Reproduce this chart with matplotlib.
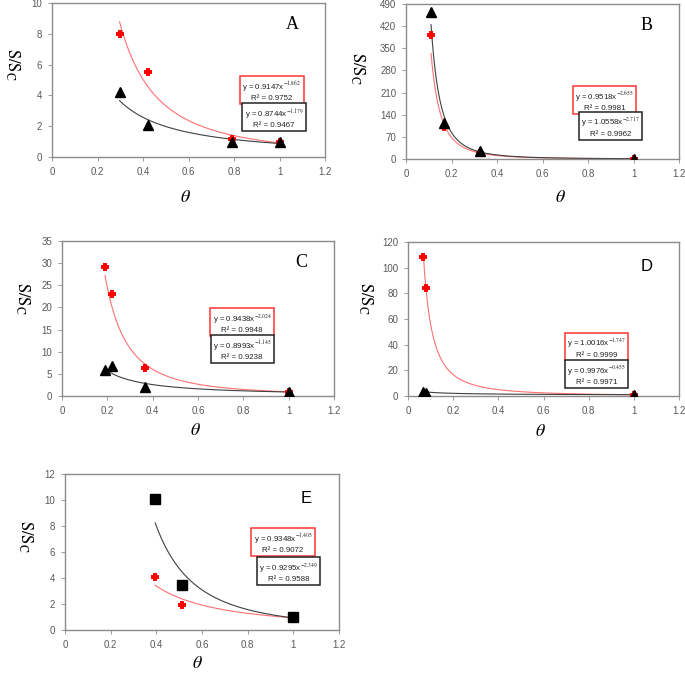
import numpy as np
import matplotlib
matplotlib.use("Agg")
import matplotlib.pyplot as plt

plt.rcParams['mathtext.fontset'] = 'stix'

W, H = 685, 674

# ---------------- data ----------------
# Panel A
a_red_x = [0.297, 0.423, 0.79, 1.0]
a_red_y = [8.0, 5.5, 1.2, 1.0]
a_blk_x = [0.297, 0.423, 0.79, 1.0]
a_blk_y = [4.2, 2.05, 1.0, 1.0]
a_red_fit = (0.9147, -1.862, 0.9752)
a_blk_fit = (0.8744, -1.179, 0.9467)

# Panel B
b_red_x = [0.11, 0.165, 0.325, 1.0]
b_red_y = [393, 100, 18, 0.9]
b_blk_x = [0.11, 0.165, 0.325, 1.0]
b_blk_y = [465, 115, 25, 1.0]
b_red_fit = (0.9518, -2.655, 0.9981)
b_blk_fit = (1.0558, -2.717, 0.9962)

# Panel C
c_red_x = [0.19, 0.22, 0.365, 1.0]
c_red_y = [29.2, 23.1, 6.3, 1.0]
c_blk_x = [0.19, 0.22, 0.365, 1.0]
c_blk_y = [5.9, 6.8, 2.1, 0.8]
c_red_fit = (0.9438, -2.024, 0.9948)
c_blk_fit = (0.8993, -1.145, 0.9238)

# Panel D
d_red_x = [0.068, 0.08, 1.0]
d_red_y = [108, 84, 1.0]
d_blk_x = [0.068, 0.08, 1.0]
d_blk_y = [3.0, 2.5, 0.6]
d_red_fit = (1.0016, -1.747, 0.9999)
d_blk_fit = (0.9976, -0.455, 0.9971)

# Panel E
e_red_x = [0.395, 0.512, 1.0]
e_red_y = [4.1, 1.9, 1.0]
e_blk_x = [0.395, 0.512, 1.0]
e_blk_y = [10.1, 3.5, 1.0]
e_red_fit = (0.9348, -1.405, 0.9072)
e_blk_fit = (0.9295, -2.349, 0.9588)

x_ticks = [0, 0.2, 0.4, 0.6, 0.8, 1.0, 1.2]
x_ticklabels = ['0', '0.2', '0.4', '0.6', '0.8', '1', '1.2']

fig = plt.figure(figsize=(W / 100, H / 100), dpi=100)

TICK_FONT = 'Liberation Sans'
SPINE_C = '#8c8c8c'


def px_axes(l, r, t, b):
    return fig.add_axes([l / W, 1 - b / H, (r - l) / W, (b - t) / H])


def fit_label(fit):
    a, k, r2 = fit
    return "y = %.4fx$^{%s}$\nR² = %.4f" % (a, ("%.3f" % k), r2)


def panel(rect, red, blk, red_fit, blk_fit, ymax, ystep, letter, letter_serif,
          red_box, blk_box, blk_marker='^', blk_ms=7):
    ax = px_axes(*rect)
    rx, ry = red
    bx, by = blk
    # fitted curves
    xr = np.linspace(min(rx), max(rx), 300)
    ax.plot(xr, red_fit[0] * xr ** red_fit[1], color='#ff7070', lw=0.8, zorder=2)
    xb = np.linspace(min(bx), max(bx), 300)
    ax.plot(xb, blk_fit[0] * xb ** blk_fit[1], color='#404040', lw=0.8, zorder=2)
    # markers
    ax.plot(rx, ry, linestyle='none', marker='P', color='red', ms=5.0, mew=1.4,
            mec='red', zorder=3)
    ax.plot(bx, by, linestyle='none', marker=blk_marker, color='black', ms=blk_ms, zorder=4)
    ax.set_xlim(0, 1.2)
    ax.set_ylim(0, ymax)
    ax.set_xticks(x_ticks)
    ax.set_xticklabels(x_ticklabels)
    yt = np.arange(0, ymax + ystep / 2, ystep)
    ax.set_yticks(yt)
    ax.set_yticklabels(['%g' % v for v in yt])
    for lab in ax.get_xticklabels() + ax.get_yticklabels():
        lab.set_fontfamily(TICK_FONT)
        lab.set_fontsize(7)
        lab.set_color('#595959')
    ax.tick_params(length=3, width=0.6, color=SPINE_C, pad=4)
    for s in ax.spines.values():
        s.set_color(SPINE_C)
        s.set_linewidth(1.0)
    # letter
    if letter_serif:
        ax.text(0.88, 0.86, letter, transform=ax.transAxes, fontsize=13,
                family='Liberation Serif', ha='center', va='center')
    else:
        ax.text(0.88, 0.84, letter, transform=ax.transAxes, fontsize=12,
                family='Liberation Sans', ha='center', va='center')
    # equation boxes
    for pos, fit, ec in ((red_box, red_fit, '#ff3333'), (blk_box, blk_fit, '#222222')):
        ax.text(pos[0], pos[1], fit_label(fit), ha='center', va='center',
                fontsize=5.7, family=TICK_FONT, color='#222222', linespacing=1.15,
                bbox=dict(boxstyle='square,pad=0.28', fc='white', ec=ec, lw=1.1),
                zorder=6)
    return ax


def labels(xlab, ylab):
    fig.text(xlab[0] / W, 1 - xlab[1] / H, r'$\theta$', fontsize=13,
             ha='center', va='center')
    fig.text(ylab[0] / W, 1 - ylab[1] / H, r'$\mathrm{S/S_C}$', fontsize=12,
             ha='center', va='center', rotation=-90)


panel((52, 325, 3, 157), (a_red_x, a_red_y), (a_blk_x, a_blk_y), a_red_fit, a_blk_fit,
      10, 2, 'A', True, (0.967, 4.29), (0.976, 2.51))
labels((185, 197), (12, 64))

panel((406, 679, 4, 159), (b_red_x, b_red_y), (b_blk_x, b_blk_y), b_red_fit, b_blk_fit,
      490, 70, 'B', True, (0.873, 183), (0.899, 101))
labels((560, 197), (357, 68))

panel((62, 334, 241, 396), (c_red_x, c_red_y), (c_blk_x, c_blk_y), c_red_fit, c_blk_fit,
      35, 5, 'C', True, (0.795, 16.5), (0.795, 10.4))
labels((195, 430), (22, 298))

panel((408, 679, 242, 396), (d_red_x, d_red_y), (d_blk_x, d_blk_y), d_red_fit, d_blk_fit,
      120, 20, 'D', False, (0.835, 37.2), (0.835, 16.5))
labels((540, 431), (365, 298))

panel((65, 339, 474, 630), (e_red_x, e_red_y), (e_blk_x, e_blk_y), e_red_fit, e_blk_fit,
      12, 2, 'E', False, (0.955, 6.69), (0.979, 4.46), blk_marker='s', blk_ms=7)
labels((197, 663), (25, 536))

fig.savefig('out.png', dpi=100)
